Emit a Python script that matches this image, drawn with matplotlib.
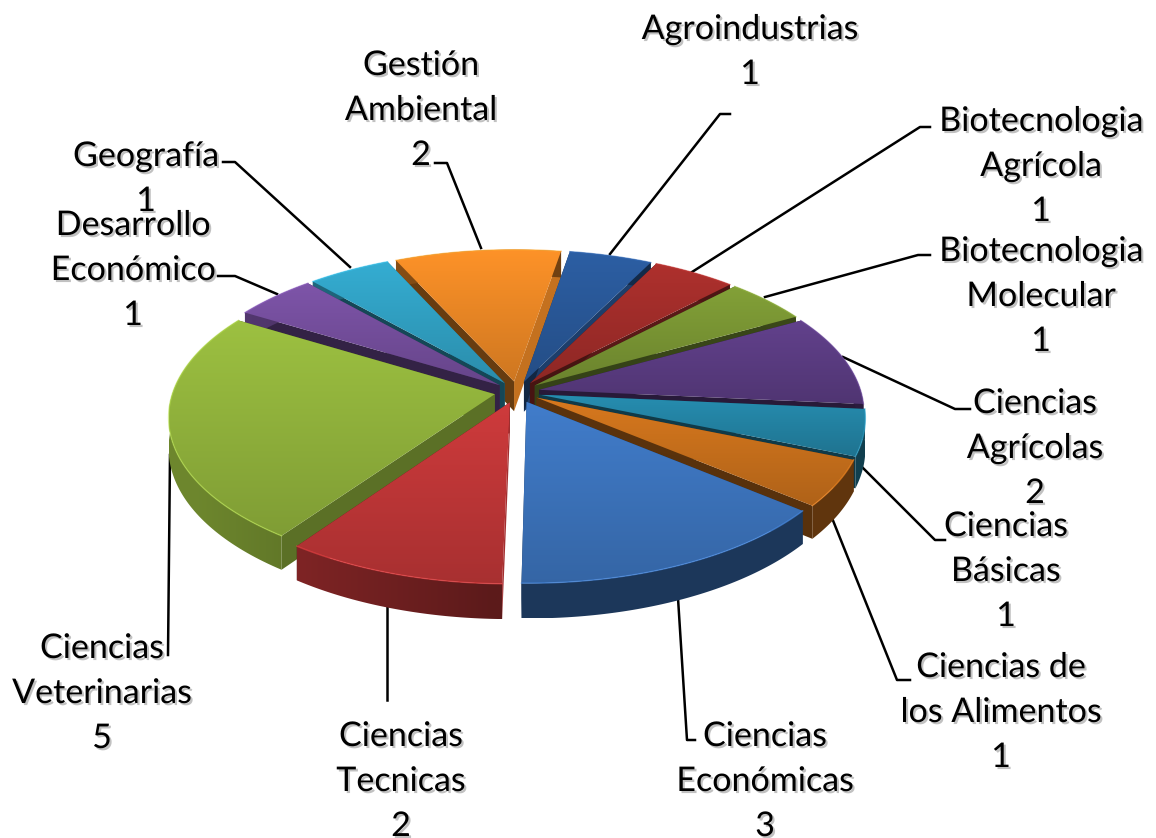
#3D exploded pie, drawn by hand because matplotlib has no real 3D pie
import numpy as np
import matplotlib
matplotlib.use('Agg')
import matplotlib.pyplot as plt
import matplotlib.patheffects as pe
from matplotlib.colors import to_rgb
from matplotlib.patches import Polygon

#Data, clockwise from the top
names = ['Agroindustrias', 'Biotecnologia\nAgrícola', 'Biotecnologia\nMolecular',
         'Ciencias\nAgrícolas', 'Ciencias\nBásicas', 'Ciencias de\nlos Alimentos',
         'Ciencias\nEconómicas', 'Ciencias\nTecnicas', 'Ciencias\nVeterinarias',
         'Desarrollo\nEconómico', 'Geografía', 'Gestión\nAmbiental']
values = [1, 1, 1, 2, 1, 1, 3, 2, 5, 1, 1, 2]
colors = ['#2b5c9f', '#a92f2c', '#7f9c36', '#5f3f88', '#2589ab', '#d1751d',
          '#3f79c5', '#c8393a', '#98bb3f', '#7a52a4', '#33a8cc', '#f68e27']

#Label centres (first line of the text block) and leader lines, in pixels
label_x = [750, 1041, 1041, 1035, 1006, 1001, 765, 401, 102, 133, 146, 421]
label_y = [26, 118, 248, 400, 523, 664, 733, 733, 645, 222, 153, 62]
leaders = [[(730, 114), (720, 114), (610, 254)],
           [(930, 127), (920, 127), (692, 272)],
           [(930, 255), (918, 255), (765, 297)],
           [(970, 409), (955, 409), (843, 357)],
           [(945, 540), (935, 540), (860, 465)],
           [(910, 680), (897, 680), (832, 518)],
           [(695, 740), (687, 740), (678, 598)],
           [(387, 700), (387, 605)],
           [(168, 655), (170, 455)],
           [(218, 276), (235, 276), (277, 294)],
           [(223, 162), (235, 162), (350, 267)],
           [(435, 163), (447, 163), (481, 248)]]

#Pie geometry
cx = 517.0; cy = 392.0
rx = 322.0; ry = 153.0
persp = 0.14
depth = 30.0
explode = 0.07
#Ciencias Tecnicas starts (clockwise) nearly straight down
split_angle = -91.0
n_before_split = 7

def project(u, v, z=0.0):
    w = 1.0 + persp*v
    return cx + rx*u/w, cy - ry*v/w + z/w

def shade(color, k):
    return tuple(min(1.0, c*k) for c in to_rgb(color))

def wall_light(x):
    #walls are lit from the left and go dark past the centre of the pie
    return np.clip(0.72 - 0.28*(x - (cx - rx))/rx, 0.46, 0.72)

fig = plt.figure(figsize=(11.56, 8.38), dpi=100)
ax = fig.add_axes([0, 0, 1, 1])
ax.set_xlim(0, 1156)
ax.set_ylim(838, 0)
ax.axis('off')

def clip_image(img, xs, ys, z):
    im = ax.imshow(img, extent=(min(xs), max(xs), max(ys), min(ys)), origin='upper',
                   aspect='auto', zorder=z, interpolation='bilinear')
    clip = Polygon(np.column_stack([xs, ys]), closed=True, transform=ax.transData)
    im.set_clip_path(clip)

#Angles from the values, running clockwise
total = float(sum(values))
sweep = np.array(values)/total*360.0
first_hi = split_angle + sweep[:n_before_split].sum()
wedges = []
hi = first_hi
for i in range(len(values)):
    lo = hi - sweep[i]
    mid = np.radians((hi + lo)/2.0)
    wedges.append((np.sin(mid), i, lo, hi, mid))
    hi = lo

#Back wedges first so the front ones cover them
wedges.sort(key=lambda t: -t[0])
z = 3
for sm, i, lo, hi, mid in wedges:
    col = colors[i]
    ou = explode*np.cos(mid); ov = explode*np.sin(mid)
    a = np.radians(np.linspace(lo, hi, 90))
    us = np.cos(a) + ou; vs = np.sin(a) + ov
    tx, ty = project(ou, ov)
    bx, by = project(ou, ov, depth)
    ax_, ay_ = project(us, vs)
    bx_, by_ = project(us, vs, depth)

    #Radial walls, lit a little when they face right
    for ang, sign, ex, ey, fx, fy in [(lo, 1, ax_[0], ay_[0], bx_[0], by_[0]),
                                      (hi, -1, ax_[-1], ay_[-1], bx_[-1], by_[-1])]:
        nx = sign*np.sin(np.radians(ang))
        k = 0.42 + 0.4*max(nx, 0.0)**4
        ax.fill([tx, ex, fx, bx], [ty, ey, fy, by], color=shade(col, k), lw=0, zorder=z)
    z += 1

    #Outer wall, gradient runs left to right
    wx = np.concatenate([ax_, bx_[::-1]]); wy = np.concatenate([ay_, by_[::-1]])
    k = wall_light(np.linspace(min(wx), max(wx), 64))
    img = np.array(to_rgb(col))[None, None, :]*k[None, :, None]
    clip_image(img, wx, wy, z)
    z += 1

    #Top face, gradient runs top to bottom
    fx_ = np.concatenate([[tx], ax_]); fy_ = np.concatenate([[ty], ay_])
    k = np.linspace(1.03, 0.84, 64)
    img = np.clip(np.array(to_rgb(col))[None, None, :]*k[:, None, None], 0, 1)
    clip_image(img, fx_, fy_, z)
    ax.plot(ax_, ay_, color=shade(col, 1.2), lw=1.0, alpha=0.6, zorder=z)
    z += 1

#Leader lines
for line in leaders:
    ax.plot([p[0] for p in line], [p[1] for p in line], color='black', lw=1.8, zorder=2)

#Labels
glow = [pe.withSimplePatchShadow(offset=(1.5, -1.5), shadow_rgbFace='#777777', alpha=0.45)]
for name, val, x, y in zip(names, values, label_x, label_y):
    ax.text(x, y - 13, name + '\n' + str(val), ha='center', va='top', ma='center',
            family='Lato', fontsize=24.5, color='black', linespacing=1.5,
            zorder=z + 1, path_effects=glow)

fig.savefig('out.png', dpi=100)
